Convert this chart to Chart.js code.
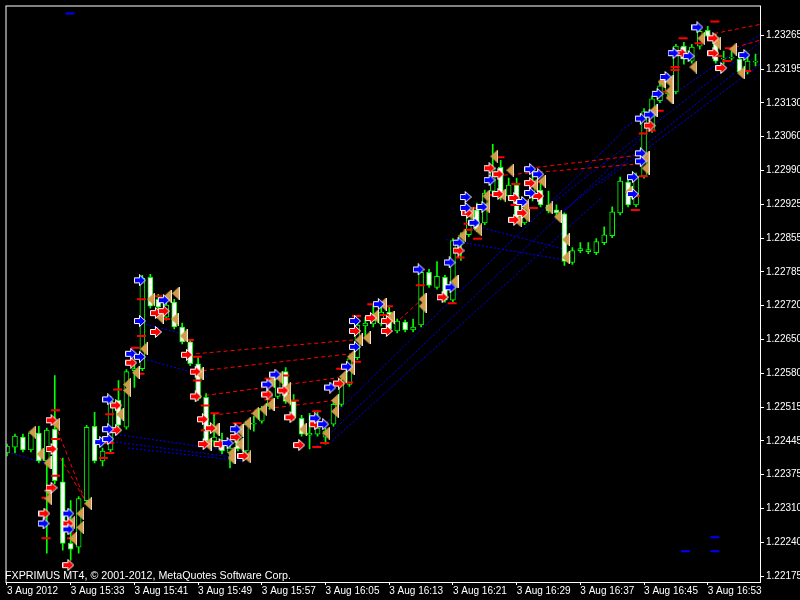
<!DOCTYPE html>
<html>
<head>
<meta charset="utf-8">
<script src="https://cdn.jsdelivr.net/npm/chart.js@4.4.1/dist/chart.umd.min.js"></script>
<style>
  html, body { margin: 0; padding: 0; background: #000; }
  canvas { display: block; }
</style>
</head>
<body>
<canvas id="mt4Chart" width="800" height="600"></canvas>
<script>
// M1 bars, 3 Aug 2012 from 15:25, one per minute
const openP = [1.22423,1.22435,1.22455,1.22429,1.22463,1.22407,1.22471,1.22365,1.22241,1.22233,
  1.22327,1.22477,1.22407,1.22429,1.22529,1.22475,1.22589,1.22593,1.22777,1.22733,
  1.22697,1.22727,1.22677,1.22647,1.22603,1.22535,1.22447,1.22443,1.22423,1.22447,
  1.22427,1.22481,1.22487,1.22517,1.22537,1.22587,1.22527,1.22493,1.22459,1.22461,
  1.22455,1.22481,1.22521,1.22561,1.22615,1.22679,1.22683,1.22683,1.22707,1.22669,
  1.22687,1.22671,1.22681,1.22787,1.22757,1.22777,1.22731,1.22847,1.22863,1.22913,
  1.22887,1.22951,1.22999,1.22941,1.22963,1.22887,1.22937,1.22953,1.22923,1.22913,
  1.22905,1.22807,1.22831,1.22829,1.22827,1.22847,1.22861,1.22907,1.22969,1.22923,
  1.22981,1.23073,1.23133,1.23147,1.23151,1.23243,1.23213,1.23243,1.23275,1.23261,
  1.23217,1.23219,1.23217,1.23191,1.23211];
const highP = [1.22441,1.22461,1.22461,1.22467,1.22477,1.22473,1.22579,1.22413,1.22327,1.22335,
  1.22479,1.22505,1.22433,1.22537,1.22569,1.22591,1.22607,1.22781,1.22783,1.22743,
  1.22727,1.22733,1.22685,1.22651,1.22617,1.22543,1.22503,1.22463,1.22443,1.22457,
  1.22487,1.22497,1.22517,1.22547,1.22583,1.22595,1.22541,1.22499,1.22503,1.22507,
  1.22473,1.22527,1.22573,1.22617,1.22687,1.22697,1.22721,1.22717,1.22717,1.22693,
  1.22691,1.22693,1.22791,1.22793,1.22809,1.22781,1.22855,1.22867,1.22917,1.22927,
  1.22953,1.23045,1.23013,1.22977,1.22977,1.22917,1.22991,1.22971,1.22951,1.22923,
  1.22907,1.22837,1.22847,1.22847,1.22855,1.22879,1.22919,1.22979,1.22973,1.22987,
  1.23117,1.23143,1.23171,1.23187,1.23247,1.23251,1.23247,1.23279,1.23283,1.23267,
  1.23233,1.23233,1.23223,1.23223,1.23227];
const lowP = [1.22417,1.22423,1.22425,1.22425,1.22403,1.22221,1.22361,1.22227,1.22207,1.22221,
  1.22323,1.22403,1.22397,1.22425,1.22475,1.22471,1.22555,1.22589,1.22715,1.22707,
  1.22691,1.22673,1.22643,1.22599,1.22529,1.22443,1.22437,1.22421,1.22393,1.22427,
  1.22423,1.22467,1.22483,1.22511,1.22533,1.22523,1.22489,1.22457,1.22431,1.22457,
  1.22441,1.22477,1.22517,1.22557,1.22611,1.22657,1.22677,1.22679,1.22669,1.22665,
  1.22667,1.22667,1.22677,1.22757,1.22753,1.22727,1.22727,1.22811,1.22859,1.22869,
  1.22883,1.22947,1.22933,1.22937,1.22891,1.22883,1.22931,1.22919,1.22907,1.22899,
  1.22801,1.22803,1.22827,1.22825,1.22823,1.22843,1.22857,1.22903,1.22919,1.22919,
  1.22977,1.23069,1.23129,1.23143,1.23147,1.23207,1.23209,1.23237,1.23259,1.23209,
  1.23207,1.23215,1.23187,1.23187,1.23203];
const closeP = [1.22437,1.22457,1.22429,1.22463,1.22407,1.22469,1.22367,1.22241,1.22229,1.22331,
  1.22475,1.22407,1.22427,1.22527,1.22479,1.22587,1.22593,1.22775,1.22719,1.22717,
  1.22721,1.22677,1.22647,1.22603,1.22533,1.22447,1.22455,1.22427,1.22433,1.22431,
  1.22481,1.22483,1.22513,1.22541,1.22573,1.22527,1.22493,1.22461,1.22463,1.22473,
  1.22467,1.22521,1.22567,1.22613,1.22681,1.22685,1.22691,1.22707,1.22673,1.22689,
  1.22671,1.22677,1.22787,1.22761,1.22779,1.22731,1.22851,1.22859,1.22901,1.22873,
  1.22947,1.22997,1.22937,1.22963,1.22897,1.22911,1.22971,1.22923,1.22911,1.22907,
  1.22809,1.22831,1.22835,1.22833,1.22849,1.22863,1.22909,1.22971,1.22923,1.22981,
  1.23111,1.23137,1.23163,1.23181,1.23243,1.23217,1.23241,1.23273,1.23263,1.23213,
  1.23219,1.23221,1.23191,1.23213,1.23213];

// axis labels
const timeLabels = ['3 Aug 2012','3 Aug 15:33','3 Aug 15:41','3 Aug 15:49','3 Aug 15:57','3 Aug 16:05',
  '3 Aug 16:13','3 Aug 16:21','3 Aug 16:29','3 Aug 16:37','3 Aug 16:45','3 Aug 16:53'];
const priceLabels = ['1.22175','1.22240','1.22310','1.22375','1.22445','1.22515','1.22580','1.22650',
  '1.22720','1.22785','1.22855','1.22925','1.22990','1.23060','1.23130','1.23195','1.23265'];

// indicator signals: [bar, price]
const blueArrows = [[4.6,1.22281],[7.7,1.22301],[7.7,1.22269],[11.7,1.22445],[12.7,1.22531],[12.7,1.22471],
  [12.7,1.22451],[16.7,1.22771],[19.7,1.22731],[16.7,1.22689],[15.6,1.22623],[16.7,1.22617],[27.7,1.22443],
  [28.7,1.22471],[33.7,1.22581],[32.7,1.22561],[38.7,1.22493],[39.7,1.22481],[40.6,1.22555],[42.7,1.22597],
  [43.7,1.22637],[43.7,1.22689],[46.7,1.22723],[51.7,1.22793],[55.6,1.22807],[55.7,1.22757],[56.7,1.22847],
  [57.6,1.22939],[57.6,1.22917],[58.7,1.22887],[59.7,1.22919],[60.6,1.22973],[64.7,1.22929],[65.7,1.22995],
  [66.7,1.22985],[65.7,1.22947],[78.6,1.22979],[78.6,1.22945],[79.6,1.23027],[79.6,1.23011],[79.6,1.23097],
  [80.7,1.23105],[81.7,1.23147],[82.7,1.23181],[83.7,1.23229],[85.6,1.23223],[86.7,1.23281],[92.6,1.23225]];
const redArrows = [[5.6,1.22489],[5.6,1.22431],[5.6,1.22353],[4.7,1.22301],[7.7,1.22281],[7.7,1.22197],
  [13.7,1.22469],[13.7,1.22519],[18.7,1.22705],[19.7,1.22709],[18.7,1.22667],[22.6,1.22621],[15.6,1.22605],
  [23.7,1.22587],[23.7,1.22537],[24.6,1.22491],[25.6,1.22473],[24.7,1.22441],[26.7,1.22441],[28.7,1.22455],
  [29.7,1.22417],[32.7,1.22541],[34.7,1.22549],[35.6,1.22495],[36.7,1.22439],[38.7,1.22481],[41.7,1.22563],
  [43.7,1.22669],[45.7,1.22695],[47.7,1.22689],[47.7,1.22669],[54.7,1.22737],[56.7,1.22831],[57.8,1.22907],
  [60.6,1.22997],[61.7,1.22985],[61.7,1.22945],[63.7,1.22937],[64.7,1.22907],[63.7,1.22893],[65.7,1.22967],
  [66.7,1.22941],[80.7,1.23083],[84.7,1.23229],[88.7,1.23259],[88.7,1.23229],[89.7,1.23199]];
const triangles = [[3.2,1.22465],[4.2,1.22421],[5.1,1.22403],[6.2,1.22481],[5.2,1.22347],[5.2,1.22331],
  [8.1,1.22283],[9.2,1.22301],[9.2,1.22273],[8.3,1.22251],[10.2,1.22321],[14.2,1.22501],[15.1,1.22561],
  [15.1,1.22549],[18.1,1.22733],[20.2,1.22739],[21.2,1.22745],[19.2,1.22697],[21.1,1.22693],[22.2,1.22659],
  [17.2,1.22633],[16.2,1.22585],[24.2,1.22583],[26.2,1.22471],[25.2,1.22441],[29.2,1.22469],[29.2,1.22441],
  [30.2,1.22415],[28.2,1.22423],[28.2,1.22413],[30.2,1.22483],[31.2,1.22503],[32.2,1.22511],[33.2,1.22567],
  [33.1,1.22521],[34.2,1.22575],[35.2,1.22553],[35.2,1.22533],[37.2,1.22471],[40.1,1.22463],[41.2,1.22529],
  [41.2,1.22507],[42.2,1.22577],[43.2,1.22593],[43.2,1.22617],[44.2,1.22651],[45.2,1.22655],[46.2,1.22699],
  [47.2,1.22723],[48.2,1.22697],[52.2,1.22733],[52.2,1.22719],[56.2,1.22769],[57.2,1.22861],[58.2,1.22905],
  [59.2,1.22873],[60.2,1.22919],[60.2,1.22941],[61.2,1.23021],[62.2,1.22943],[63.2,1.22993],[65.1,1.22921],
  [64.2,1.22891],[65.2,1.22901],[66.2,1.22963],[67.2,1.22971],[68.1,1.22917],[69.2,1.22899],[70.2,1.22853],
  [70.2,1.22817],[78.1,1.22949],[80.2,1.23019],[80.2,1.22997],[81.2,1.23113],[82.2,1.23171],[83.2,1.23171],
  [83.2,1.23153],[83.2,1.23139],[86.2,1.23201],[87.2,1.23259],[89.2,1.23249],[91.2,1.23237],[92.2,1.23189]];
const redMarks = [[6.1,1.22509],[6.1,1.22451],[4.9,1.22333],[6.1,1.22377],[4.9,1.22251],[8.1,1.22251],
  [12.1,1.22413],[12.9,1.22501],[12.9,1.22443],[12.9,1.22423],[13.9,1.22551],[18.9,1.22739],[19.9,1.22693],
  [16.9,1.22733],[16.9,1.22659],[22.9,1.22651],[16.1,1.22635],[16.7,1.22583],[23.9,1.22569],[23.9,1.22617],
  [26.1,1.22503],[24.9,1.22519],[24.9,1.22469],[28.9,1.22483],[32.9,1.22573],[32.9,1.22531],[34.9,1.22579],
  [36.1,1.22529],[38.9,1.22507],[39.9,1.22443],[38.9,1.22435],[41.9,1.22593],[42.9,1.22565],[43.9,1.22699],
  [43.9,1.22607],[45.8,1.22723],[47.4,1.22701],[47.9,1.22719],[51.9,1.22761],[55.9,1.22725],[56.9,1.22817],
  [57.9,1.22885],[57.9,1.22873],[59.1,1.22855],[58.9,1.22917],[61.9,1.23019],[61.1,1.22943],[63.9,1.22965],
  [63.8,1.22923],[66.1,1.22917],[67.1,1.22969],[78.9,1.22941],[78.9,1.22913],[79.9,1.22981],[79.9,1.23067],
  [80.9,1.23073],[81.9,1.23113],[82.9,1.23151],[83.9,1.23201],[83.9,1.23195],[84.9,1.23259],[86.9,1.23249],
  [88.9,1.23293],[89.3,1.23223],[90.7,1.23239],[92.9,1.23193],[90.4,1.23213]];
const blueMarks = [[7.9,1.23309],[85.2,1.22225],[88.9,1.22225],[88.9,1.22253]];

// trend lines: [bar1, price1, bar2, price2]
const redTrend = [[6.4,1.22467,9.8,1.22327],[6.7,1.22413,9.6,1.22333],[8.3,1.22263,7.9,1.22201],
  [23.7,1.22623,43.6,1.22651],[24.6,1.22589,43.1,1.22623],[24.9,1.22539,41.7,1.22575],
  [25.8,1.22499,42.1,1.22531],[39.2,1.22473,42.1,1.22507],[48.7,1.22683,51.7,1.22727],
  [62.4,1.22983,80.2,1.23007],[65.6,1.22997,80.2,1.23025],[87.1,1.23263,94.6,1.23287],[90.6,1.23237,94.6,1.23255]];
const blueTrend = [[-0.4,1.22427,5.2,1.22401],[12.7,1.22463,28.3,1.22427],[12.7,1.22447,28.3,1.22415],
  [15.2,1.22433,29.6,1.22407],[17.1,1.22613,25.2,1.22577],[17.4,1.22683,22.1,1.22663],
  [37.1,1.22437,77.1,1.23067],[38.9,1.22437,79.6,1.23057],[40.8,1.22447,74.6,1.22937],
  [67.7,1.22917,94.6,1.23251],[69.6,1.22907,94.6,1.23231],[74.6,1.22967,94.6,1.23207],
  [58.3,1.22883,70.2,1.22833],[55.2,1.22853,70.4,1.22811],[77.1,1.23073,94.6,1.23267]];

const GREEN = '#00ff00';

const makeArrow = (fill) => {
    const c = document.createElement('canvas');
    c.width = 12; c.height = 12;
    const g = c.getContext('2d');
    g.beginPath();
    g.moveTo(0.5, 3.5); g.lineTo(5.5, 3.5); g.lineTo(5.5, 0.5);
    g.lineTo(11.5, 6); g.lineTo(5.5, 11.5); g.lineTo(5.5, 8.5); g.lineTo(0.5, 8.5);
    g.closePath();
    g.fillStyle = fill; g.fill();
    g.strokeStyle = '#ffffff'; g.lineWidth = 1; g.stroke();
    return c;
}

const makeTriangle = () => {
    const c = document.createElement('canvas');
    c.width = 8; c.height = 13;
    const g = c.getContext('2d');
    g.beginPath();
    g.moveTo(7, 0); g.lineTo(0, 6.5); g.lineTo(7, 13);
    g.closePath();
    g.fillStyle = '#d09c4c'; g.fill();
    g.fillStyle = '#f4e8d0';
    g.fillRect(7, 0, 1, 13);
    return c;
}

const toPoints = (list) => list.map(([x, y]) => ({x, y}));

const segmentSets = (list, color, dash) => list.map((s) => ({
    type: 'line',
    data: [{x: s[0], y: s[1]}, {x: s[2], y: s[3]}],
    borderColor: color, borderWidth: 1, borderDash: dash,
    pointRadius: 0, fill: false, order: 10
}));

const markerSet = (list, style, extra) => Object.assign({
    type: 'scatter',
    data: toPoints(list),
    pointStyle: style, pointRadius: 5, showLine: false
}, extra);

const wicks = openP.map((o, i) => ({x: i, y: [lowP[i], highP[i]]}));
const bodies = openP.map((o, i) => ({x: i, y: [o, closeP[i]]}));
const bodyFill = openP.map((o, i) => closeP[i] >= o ? '#000000' : '#ffffff');

const frame = {
    id: 'mt4frame',
    beforeDraw(chart) {
        const g = chart.ctx;
        g.save();
        g.fillStyle = '#000';
        g.fillRect(0, 0, chart.width, chart.height);
        g.restore();
    },
    afterDraw(chart) {
        const g = chart.ctx, a = chart.chartArea;
        g.save();
        g.strokeStyle = '#ffffff'; g.lineWidth = 1;
        g.strokeRect(a.left - 0.5, a.top - 0.5, a.right - a.left + 1, a.bottom - a.top + 1);
        g.fillStyle = '#ffffff';
        g.font = '10.7px "Liberation Sans"';
        g.textBaseline = 'alphabetic';
        g.fillText('FXPRIMUS MT4, \u00a9 2001-2012, MetaQuotes Software Corp.', 5, 579);
        g.restore();
    }
};

const ctx = document.getElementById('mt4Chart');
const xTicks = timeLabels.map((t, k) => k * 8);
const yStep = (1.23265 - 1.22175) / 16;

new Chart(ctx, {
    type: 'bar',
    data: {
        datasets: [
            ...segmentSets(redTrend, '#ff0000', [4, 3]),
            ...segmentSets(blueTrend, '#0000ff', [2, 2]),
            {type: 'bar', data: wicks, backgroundColor: GREEN, barThickness: 1, grouped: false, order: 9},
            {type: 'bar', data: bodies, backgroundColor: bodyFill, borderColor: GREEN, borderWidth: 1,
             borderSkipped: false, barThickness: 5, minBarLength: 1, grouped: false, order: 8},
            markerSet(redMarks, 'line', {borderColor: '#ff0000', borderWidth: 2, pointRadius: 4.5, order: 4}),
            markerSet(blueMarks, 'line', {borderColor: '#0000ff', borderWidth: 2, pointRadius: 4.5, order: 4}),
            markerSet(triangles, makeTriangle(), {order: 3}),
            markerSet(redArrows, makeArrow('#ff0000'), {order: 2}),
            markerSet(blueArrows, makeArrow('#0000ff'), {order: 1})
        ]
    },
    options: {
        responsive: false,
        animation: false,
        events: [],
        layout: {padding: {left: 3, top: 2, right: 0, bottom: 0}},
        plugins: {legend: {display: false}, tooltip: {enabled: false}},
        scales: {
            x: {
                type: 'linear', min: -0.0625, max: 94.5625, offset: false,
                afterBuildTicks: (s) => { s.ticks = xTicks.map((v) => ({value: v})); },
                afterFit: (s) => { s.height = 18; s.paddingLeft = 0; s.paddingRight = 0; },
                grid: {display: true, drawOnChartArea: false, drawTicks: true, tickLength: 3, color: '#ffffff', offset: false},
                border: {display: false},
                ticks: {
                    color: '#ffffff', font: {family: 'Liberation Sans', size: 10},
                    align: 'start', padding: 0, maxRotation: 0, autoSkip: false,
                    callback: (v, i) => timeLabels[i]
                }
            },
            y: {
                type: 'linear', position: 'right', min: 1.22163, max: 1.23323,
                afterBuildTicks: (s) => { s.ticks = priceLabels.map((t, k) => ({value: 1.22175 + k * yStep})); },
                afterFit: (s) => { s.width = 40; s.paddingTop = 0; s.paddingBottom = 0; },
                grid: {display: true, drawOnChartArea: false, drawTicks: true, tickLength: 4, color: '#ffffff'},
                border: {display: false},
                ticks: {
                    color: '#ffffff', font: {family: 'Liberation Sans', size: 10}, padding: 2,
                    callback: (v, i) => priceLabels[i]
                }
            }
        }
    },
    plugins: [frame]
});
</script>
</body>
</html>
